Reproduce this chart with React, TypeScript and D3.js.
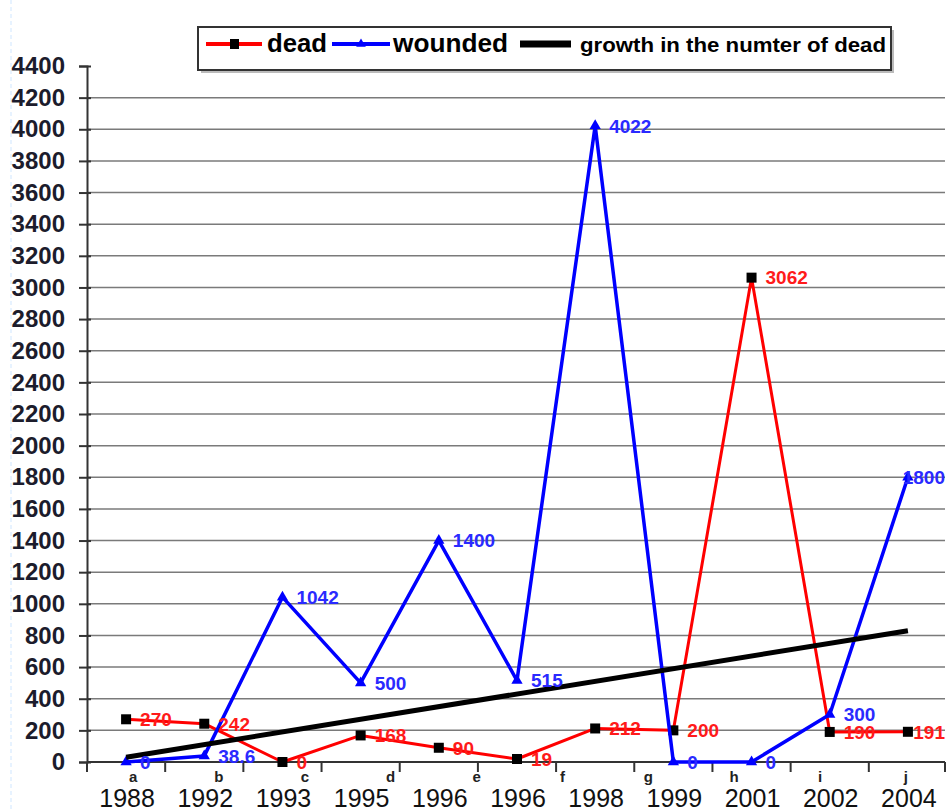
import React, { useEffect, useRef } from "react";
import * as d3 from "d3";

// chart data
const years = ["1988", "1992", "1993", "1995", "1996", "1996", "1998", "1999", "2001", "2002", "2004"];
const letters = ["a", "b", "c", "d", "e", "f", "g", "h", "i", "j"];
const dead = [270, 242, 0, 168, 90, 19, 212, 200, 3062, 190, 191];
const wounded = [0, 38.6, 1042, 500, 1400, 515, 4022, 0, 0, 300, 1800];
// trend line: value at first and last year
const growth = [30, 830];
const yTicks = [0, 200, 400, 600, 800, 1000, 1200, 1400, 1600, 1800, 2000, 2200, 2400, 2600, 2800, 3000, 3200, 3400, 3600, 3800, 4000, 4200, 4400];

const W = 947;
const H = 812;
const margin = { top: 66, right: 0, bottom: 50, left: 87 };
const FONT = "'Liberation Sans', Arial, sans-serif";

export default function App() {
  const ref = useRef<SVGSVGElement | null>(null);

  useEffect(() => {
    const svg = d3.select(ref.current);
    svg.selectAll("*").remove();

    const x = d3
      .scaleBand<number>()
      .domain(years.map((_, i) => i))
      .range([margin.left, W - margin.right])
      .padding(0);
    const bw = x.bandwidth();
    const xc = (i: number) => (x(i) as number) + bw / 2;
    const y = d3.scaleLinear().domain([0, 4400]).range([H - margin.bottom, margin.top]);
    const right = W - 2;

    // faint left edge artefact
    svg
      .append("line")
      .attr("x1", 11)
      .attr("x2", 11)
      .attr("y1", 0)
      .attr("y2", H)
      .attr("stroke", "#cfe6ff")
      .attr("stroke-dasharray", "4,3");

    // grid lines
    svg
      .append("g")
      .selectAll("line")
      .data(yTicks.filter((t) => t > 0 && t < 4400))
      .join("line")
      .attr("x1", margin.left)
      .attr("x2", right)
      .attr("y1", (d) => y(d))
      .attr("y2", (d) => y(d))
      .attr("stroke", "#7a7a7a")
      .attr("stroke-width", 1.5);

    // y axis
    const axisLeft = svg
      .append("g")
      .attr("transform", `translate(${margin.left},0)`)
      .call(d3.axisLeft(y).tickValues(yTicks).tickSize(8).tickPadding(14).tickFormat(d3.format("d")));
    axisLeft.select(".domain").attr("stroke", "#333").attr("stroke-width", 2);
    axisLeft.selectAll("line").attr("stroke", "#333").attr("stroke-width", 2).attr("x2", -8).attr("x1", 4);
    axisLeft
      .selectAll("text")
      .style("font-family", FONT)
      .style("font-size", "24px")
      .style("font-weight", "bold")
      .style("fill", "#1c1c2c");

    // x axis line and ticks at band edges
    const base = y(0);
    svg
      .append("line")
      .attr("x1", margin.left)
      .attr("x2", right)
      .attr("y1", base)
      .attr("y2", base)
      .attr("stroke", "#333")
      .attr("stroke-width", 2);
    const edges = years.map((_, i) => x(i) as number).concat([right]);
    svg
      .append("g")
      .selectAll("line")
      .data(edges)
      .join("line")
      .attr("x1", (d) => d)
      .attr("x2", (d) => d)
      .attr("y1", base)
      .attr("y2", base + 10)
      .attr("stroke", "#333")
      .attr("stroke-width", 2);

    // year labels
    svg
      .append("g")
      .selectAll("text")
      .data(years)
      .join("text")
      .attr("x", (_, i) => xc(i) + 1)
      .attr("y", 807)
      .attr("text-anchor", "middle")
      .style("font-family", FONT)
      .style("font-size", "25px")
      .style("fill", "#111")
      .text((d) => d);

    // letters
    const xl = d3.scalePoint<string>().domain(letters).range([xc(0) + 7, xc(10) - 2]);
    svg
      .append("g")
      .selectAll("text")
      .data(letters)
      .join("text")
      .attr("x", (d) => xl(d) as number)
      .attr("y", 782)
      .attr("text-anchor", "middle")
      .style("font-family", FONT)
      .style("font-size", "15px")
      .style("font-weight", "bold")
      .style("fill", "#222")
      .text((d) => d);

    const line = d3
      .line<number>()
      .x((_, i) => xc(i))
      .y((d) => y(d));

    // dead
    svg
      .append("path")
      .datum(dead)
      .attr("d", line)
      .attr("fill", "none")
      .attr("stroke", "#ff0000")
      .attr("stroke-width", 3)
      .attr("stroke-linejoin", "round");
    svg
      .append("g")
      .selectAll("rect")
      .data(dead)
      .join("rect")
      .attr("x", (_, i) => xc(i) - 5)
      .attr("y", (d) => y(d) - 5)
      .attr("width", 10)
      .attr("height", 10)
      .attr("fill", "#000");

    // wounded
    svg
      .append("path")
      .datum(wounded)
      .attr("d", line)
      .attr("fill", "none")
      .attr("stroke", "#0000ff")
      .attr("stroke-width", 3.5)
      .attr("stroke-linejoin", "round");
    const tri = d3.symbol().type(d3.symbolTriangle).size(55);
    svg
      .append("g")
      .selectAll("path")
      .data(wounded)
      .join("path")
      .attr("transform", (d, i) => `translate(${xc(i)},${y(d)})`)
      .attr("d", tri() as string)
      .attr("fill", "#0000ff");

    // growth trend
    svg
      .append("line")
      .attr("x1", xc(0))
      .attr("x2", xc(years.length - 1))
      .attr("y1", y(growth[0]))
      .attr("y2", y(growth[1]))
      .attr("stroke", "#000")
      .attr("stroke-width", 5);

    // data labels (last one pushed back inside the right edge)
    const last = years.length - 1;
    const addLabels = (vals: number[], color: string) => {
      svg
        .append("g")
        .selectAll("text")
        .data(vals)
        .join("text")
        .attr("x", (_, i) => (i === last ? right : xc(i) + 14))
        .attr("y", (d) => y(d))
        .attr("dy", "0.36em")
        .attr("text-anchor", (_, i) => (i === last ? "end" : "start"))
        .style("font-family", FONT)
        .style("font-size", "19px")
        .style("font-weight", "bold")
        .style("fill", color)
        .text((d) => String(d));
    };
    addLabels(dead, "#ff1a1a");
    addLabels(wounded, "#2a2aff");

    // legend
    const lg = svg.append("g");
    lg.append("rect").attr("x", 201).attr("y", 30).attr("width", 693).attr("height", 43).attr("fill", "#bbb");
    lg.append("rect")
      .attr("x", 198)
      .attr("y", 27)
      .attr("width", 693)
      .attr("height", 43)
      .attr("fill", "#fff")
      .attr("stroke", "#333")
      .attr("stroke-width", 2);
    const ly = 44;
    lg.append("line").attr("x1", 206).attr("x2", 262).attr("y1", ly).attr("y2", ly).attr("stroke", "#ff0000").attr("stroke-width", 4);
    lg.append("rect").attr("x", 230).attr("y", ly - 5).attr("width", 9).attr("height", 10).attr("fill", "#000");
    lg.append("line").attr("x1", 332).attr("x2", 390).attr("y1", ly).attr("y2", ly).attr("stroke", "#0000ff").attr("stroke-width", 4);
    lg.append("path").attr("transform", `translate(361,${ly})`).attr("d", d3.symbol().type(d3.symbolTriangle).size(40)() as string).attr("fill", "#0000ff");
    lg.append("line").attr("x1", 520).attr("x2", 571).attr("y1", ly).attr("y2", ly).attr("stroke", "#000").attr("stroke-width", 7);
    const legendText = [
      { t: "dead", x: 267, w: 60, s: 25 },
      { t: "wounded", x: 393, w: 115, s: 25 },
      { t: "growth in the numter of dead", x: 580, w: 306, s: 21 },
    ];
    lg.selectAll("text.lt")
      .data(legendText)
      .join("text")
      .attr("class", "lt")
      .attr("x", (d) => d.x)
      .attr("y", 52)
      .attr("textLength", (d) => d.w)
      .attr("lengthAdjust", "spacingAndGlyphs")
      .style("font-family", FONT)
      .style("font-size", (d) => `${d.s}px`)
      .style("font-weight", "bold")
      .style("fill", "#000")
      .text((d) => d.t);
  }, []);

  return (
    <svg
      ref={ref}
      width={W}
      height={H}
      style={{ position: "absolute", left: 0, top: 0, background: "#fff" }}
    />
  );
}
